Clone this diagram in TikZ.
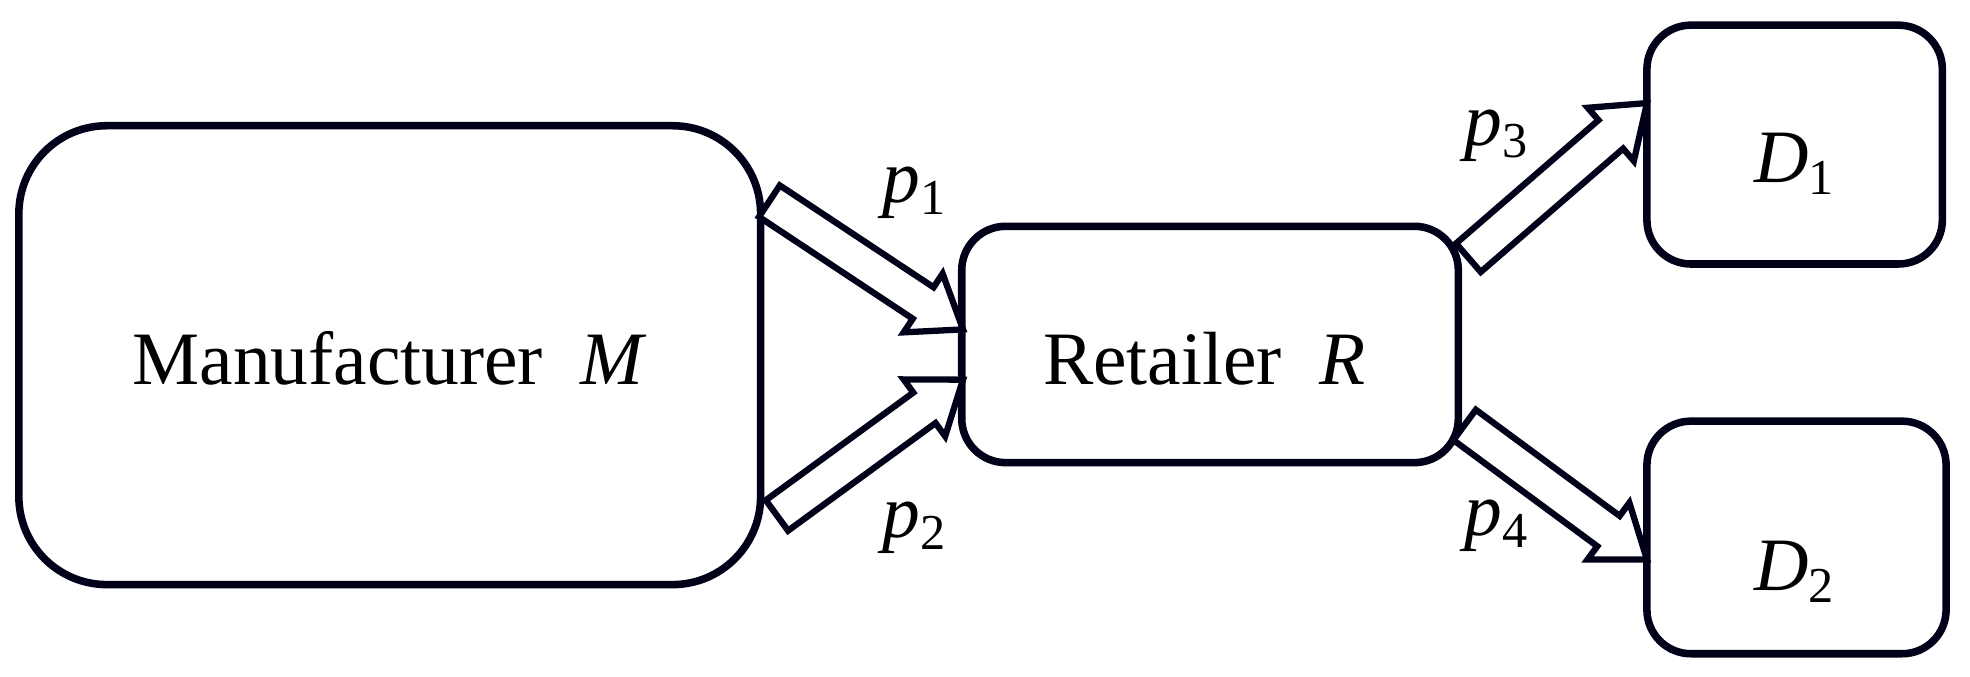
\documentclass[tikz,border=0pt]{standalone}
\usepackage{fontspec}
\setmainfont{Liberation Serif}
\usetikzlibrary{calc}
\tikzset{box/.style={draw=black!90!blue,line width=6pt,fill=white},
lbl/.style={font=\fontsize{60}{70}\selectfont,inner sep=0pt}}
\newcommand{\sub}[2]{\textit{#1}\raisebox{-0.35ex}{\fontsize{40}{46}\selectfont #2}}
\newcommand{\harrow}[2]{%
\coordinate (n) at ($(#2)!38pt!(#1)$);
\draw[line width=5pt,draw=black!90!blue,fill=white,line join=miter]
 ($(#1)!15pt!90:(#2)$) -- ($(n)!15pt!-90:(#1)$) -- ($(n)!28pt!-90:(#1)$) -- (#2)
 -- ($(n)!28pt!90:(#1)$) -- ($(n)!15pt!90:(#1)$) -- ($(#1)!15pt!-90:(#2)$) -- cycle;}
\begin{document}
\begin{tikzpicture}[x=1pt,y=-1pt]
\useasboundingbox (0,0) rectangle (1567,538);
\draw[box,rounded corners=70pt] (15,100) rectangle (605,465);
\draw[box,rounded corners=35pt] (765,180) rectangle (1160,368);
\draw[box,rounded corners=35pt] (1310,20) rectangle (1545,210);
\draw[box,rounded corners=35pt] (1310,335) rectangle (1548,520);
\coordinate (a1) at (612,160); \coordinate (b1) at (766,262);
\coordinate (a2) at (618,410); \coordinate (b2) at (766,302);
\coordinate (a3) at (1168,205); \coordinate (b3) at (1310,82);
\coordinate (a4) at (1165,338); \coordinate (b4) at (1310,445);
\harrow{a1}{b1}\harrow{a2}{b2}\harrow{a3}{b3}\harrow{a4}{b4}
\node[lbl] (t1) at (310,285) {Manufacturer \ \textit{M}};
\node[lbl] (t2) at (958,285) {Retailer \ \textit{R}};
\node[lbl] (d1) at (1427,130) {\sub{D}{1}};
\node[lbl] (d2) at (1427,455) {\sub{D}{2}};
\node[lbl] (p1) at (727,153) {\sub{p}{1}};
\node[lbl] (p2) at (727,420) {\sub{p}{2}};
\node[lbl] (p3) at (1190,108) {\sub{p}{3}};
\node[lbl] (p4) at (1190,418) {\sub{p}{4}};
\end{tikzpicture}
\end{document}
